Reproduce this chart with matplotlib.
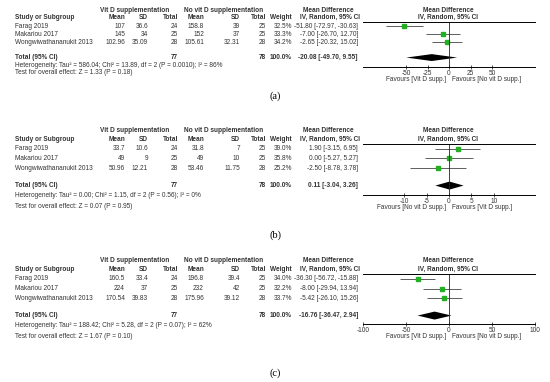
import numpy as np
import matplotlib
matplotlib.use("Agg")
import matplotlib.pyplot as plt

plt.rcParams['font.family'] = ['Liberation Sans', 'DejaVu Sans']

studies = ['Farag 2019', 'Makariou 2017', 'Wongwiwathananukit 2013']

# panel (a)
a_vit_mean = [107, 145, 102.96]
a_vit_sd = [36.6, 34, 35.09]
a_vit_n = [24, 25, 28]
a_no_mean = [158.8, 152, 105.61]
a_no_sd = [39, 37, 32.31]
a_no_n = [25, 25, 28]
a_weight = [32.5, 33.3, 34.2]
a_md = [-51.80, -7.00, -2.65]
a_lo = [-72.97, -26.70, -20.32]
a_hi = [-30.63, 12.70, 15.02]
a_total = [-20.08, -49.70, 9.55]
a_het = "Heterogeneity: Tau² = 586.04; Chi² = 13.89, df = 2 (P = 0.0010); I² = 86%"
a_test = "Test for overall effect: Z = 1.33 (P = 0.18)"
a_ticks = [-50, -25, 0, 25, 50]
a_fav = ['Favours [Vit D supp.]', 'Favours [No vit D supp.]']

# panel (b)
b_vit_mean = [33.7, 49, 50.96]
b_vit_sd = [10.6, 9, 12.21]
b_vit_n = [24, 25, 28]
b_no_mean = [31.8, 49, 53.46]
b_no_sd = [7, 10, 11.75]
b_no_n = [25, 25, 28]
b_weight = [39.0, 35.8, 25.2]
b_md = [1.90, 0.00, -2.50]
b_lo = [-3.15, -5.27, -8.78]
b_hi = [6.95, 5.27, 3.78]
b_total = [0.11, -3.04, 3.26]
b_het = "Heterogeneity: Tau² = 0.00; Chi² = 1.15, df = 2 (P = 0.56); I² = 0%"
b_test = "Test for overall effect: Z = 0.07 (P = 0.95)"
b_ticks = [-10, -5, 0, 5, 10]
b_fav = ['Favours [No vit D supp.]', 'Favours [Vit D supp.]']

# panel (c)
c_vit_mean = [160.5, 224, 170.54]
c_vit_sd = [33.4, 37, 39.83]
c_vit_n = [24, 25, 28]
c_no_mean = [196.8, 232, 175.96]
c_no_sd = [39.4, 42, 39.12]
c_no_n = [25, 25, 28]
c_weight = [34.0, 32.2, 33.7]
c_md = [-36.30, -8.00, -5.42]
c_lo = [-56.72, -29.94, -26.10]
c_hi = [-15.88, 13.94, 15.26]
c_total = [-16.76, -36.47, 2.94]
c_het = "Heterogeneity: Tau² = 188.42; Chi² = 5.28, df = 2 (P = 0.07); I² = 62%"
c_test = "Test for overall effect: Z = 1.67 (P = 0.10)"
c_ticks = [-100, -50, 0, 50, 100]
c_fav = ['Favours [Vit D supp.]', 'Favours [No vit D supp.]']

W, H = 550, 382
fig = plt.figure(figsize=(W / 100, H / 100), dpi=100)
bg = fig.add_axes([0, 0, 1, 1])
bg.set_xlim(0, W)
bg.set_ylim(H, 0)
bg.axis('off')

fs = 4.7
tc = '#333333'
green = '#22b022'


def fmt(v):
    return f'{v:g}'


def panel(label, label_y, line_y, y0, pitch, axis_y, xlim,
          vm, vs, vn, nm, ns, nn, wt, md, lo, hi, tot, het, test, ticks, fav,
          het_row, test_row):
    def ry(r):
        return y0 + pitch * r

    # headers
    bg.text(135, ry(-1.95), 'Vit D supplementation', fontsize=fs, color=tc, ha='center', va='center', fontweight='bold')
    bg.text(224, ry(-1.95), 'No vit D supplementation', fontsize=fs, color=tc, ha='center', va='center', fontweight='bold')
    bg.text(328, ry(-1.95), 'Mean Difference', fontsize=fs, color=tc, ha='center', va='center', fontweight='bold')
    bg.text(448, ry(-1.95), 'Mean Difference', fontsize=fs, color=tc, ha='center', va='center', fontweight='bold')
    hr = ry(-1.0)
    bg.text(15, hr, 'Study or Subgroup', fontsize=fs, color=tc, ha='left', va='center', fontweight='bold')
    for x, t in [(125, 'Mean'), (148, 'SD'), (178, 'Total'), (204, 'Mean'), (240, 'SD'),
                 (266, 'Total'), (292, 'Weight')]:
        bg.text(x, hr, t, fontsize=fs, color=tc, ha='right', va='center', fontweight='bold')
    bg.text(330, hr, 'IV, Random, 95% CI', fontsize=fs, color=tc, ha='center', va='center', fontweight='bold')
    bg.text(448, hr, 'IV, Random, 95% CI', fontsize=fs, color=tc, ha='center', va='center', fontweight='bold')

    # study rows
    for i, s in enumerate(studies):
        y = ry(i)
        bg.text(15, y, s, fontsize=fs, color=tc, ha='left', va='center')
        cols = [(125, fmt(vm[i])), (148, fmt(vs[i])), (178, str(vn[i])),
                (204, fmt(nm[i])), (240, fmt(ns[i])), (266, str(nn[i])),
                (292, f'{wt[i]:.1f}%'),
                (358, f'{md[i]:.2f} [{lo[i]:.2f}, {hi[i]:.2f}]')]
        for x, t in cols:
            bg.text(x, y, t, fontsize=fs, color=tc, ha='right', va='center')

    # total row
    yt = ry(3.85)
    bg.text(15, yt, 'Total (95% CI)', fontsize=fs, color=tc, ha='left', va='center', fontweight='bold')
    for x, t in [(178, str(sum(vn))), (266, str(sum(nn))), (292, '100.0%'),
                 (358, f'{tot[0]:.2f} [{tot[1]:.2f}, {tot[2]:.2f}]')]:
        bg.text(x, yt, t, fontsize=fs, color=tc, ha='right', va='center', fontweight='bold')
    bg.text(15, ry(het_row), het, fontsize=fs, color=tc, ha='left', va='center')
    bg.text(15, ry(test_row), test, fontsize=fs, color=tc, ha='left', va='center')

    # forest plot
    left, right = 363, 535
    ax = fig.add_axes([left / W, 1 - axis_y / H, (right - left) / W, (axis_y - line_y) / H])
    ax.set_xlim(-xlim, xlim)
    ax.set_ylim((axis_y - y0) / pitch, (line_y - y0) / pitch)
    rows = np.arange(len(md))
    ax.hlines(rows, lo, hi, color='#444444', lw=0.6)
    for i in rows:
        ax.plot(md[i], i, marker='s', color=green, ms=0.55 * np.sqrt(wt[i]), mec=green)
    d = 0.42
    ax.fill([tot[1], tot[0], tot[2], tot[0]], [3.85, 3.85 - d, 3.85, 3.85 + d], color='black', lw=0)
    ax.axvline(0, color='#222222', lw=0.6)
    for sp in ['left', 'right']:
        ax.spines[sp].set_visible(False)
    ax.spines['top'].set_linewidth(0.7)
    ax.spines['bottom'].set_linewidth(0.7)
    ax.set_yticks([])
    ax.set_xticks(ticks)
    ax.set_xticklabels([str(t) for t in ticks])
    ax.tick_params(axis='x', labelsize=fs, colors=tc, length=2.5, width=0.6, direction='inout', pad=0.8)
    ax.patch.set_alpha(0)
    ax.annotate(fav[0], xy=(0, 0), xycoords=('data', 'axes fraction'), xytext=(-2, -9.3),
                textcoords='offset points', ha='right', va='center', fontsize=fs, color=tc)
    ax.annotate(fav[1], xy=(0, 0), xycoords=('data', 'axes fraction'), xytext=(2, -9.3),
                textcoords='offset points', ha='left', va='center', fontsize=fs, color=tc)

    bg.text(275, label_y, label, fontsize=7.5, family='Liberation Serif', ha='center', va='center')


panel('(a)', 96, 22, 26, 8.2, 67, 100,
      a_vit_mean, a_vit_sd, a_vit_n, a_no_mean, a_no_sd, a_no_n, a_weight,
      a_md, a_lo, a_hi, a_total, a_het, a_test, a_ticks, a_fav, 4.8, 5.65)
panel('(b)', 235, 144, 149, 9.5, 195, 19.2,
      b_vit_mean, b_vit_sd, b_vit_n, b_no_mean, b_no_sd, b_no_n, b_weight,
      b_md, b_lo, b_hi, b_total, b_het, b_test, b_ticks, b_fav, 4.85, 6.0)
panel('(c)', 373, 274, 279, 9.5, 324, 100,
      c_vit_mean, c_vit_sd, c_vit_n, c_no_mean, c_no_sd, c_no_n, c_weight,
      c_md, c_lo, c_hi, c_total, c_het, c_test, c_ticks, c_fav, 4.85, 6.0)

fig.savefig('out.png', dpi=100)
